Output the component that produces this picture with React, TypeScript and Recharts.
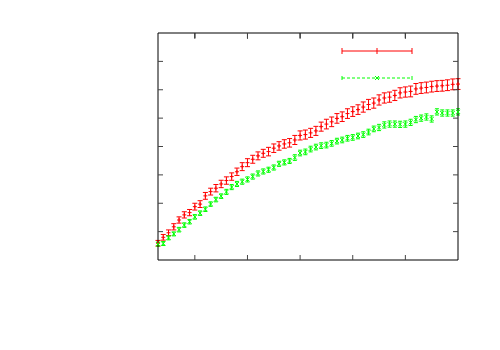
import React from 'react';
import { ScatterChart, Scatter, XAxis, YAxis, ErrorBar, ReferenceLine } from 'recharts';

// step index (x axis)
const steps = [
  3, 4, 5, 6, 7, 8, 9, 10, 11, 12, 13, 14, 15, 16, 17, 18, 19, 20, 21, 22,
  23, 24, 25, 26, 27, 28, 29, 30, 31, 32, 33, 34, 35, 36, 37, 38, 39, 40, 41, 42,
  43, 44, 45, 46, 47, 48, 49, 50, 51, 52, 53, 54, 55, 56, 57, 58, 59, 60,
];

const redMean = [
  0.59, 0.80, 0.96, 1.17, 1.41, 1.59, 1.67, 1.88, 1.97, 2.26, 2.41, 2.53, 2.68, 2.80, 2.94, 3.11, 3.29, 3.43, 3.55, 3.67,
  3.76, 3.82, 3.94, 4.02, 4.09, 4.13, 4.23, 4.39, 4.42, 4.48, 4.55, 4.70, 4.79, 4.87, 4.99, 5.05, 5.16, 5.23, 5.30, 5.39,
  5.48, 5.53, 5.64, 5.71, 5.74, 5.80, 5.89, 5.92, 5.94, 6.03, 6.06, 6.08, 6.11, 6.13, 6.14, 6.16, 6.19, 6.20,
];
const redErr = [
  0.10, 0.10, 0.10, 0.11, 0.11, 0.11, 0.11, 0.12, 0.12, 0.12, 0.12, 0.13, 0.13, 0.13, 0.13, 0.13, 0.14, 0.14, 0.14, 0.14,
  0.14, 0.15, 0.15, 0.15, 0.15, 0.15, 0.16, 0.16, 0.16, 0.16, 0.16, 0.16, 0.17, 0.17, 0.17, 0.17, 0.17, 0.17, 0.17, 0.18,
  0.18, 0.18, 0.18, 0.18, 0.18, 0.18, 0.18, 0.18, 0.19, 0.19, 0.19, 0.19, 0.19, 0.19, 0.19, 0.19, 0.19, 0.19,
];

const greenMean = [
  0.56, 0.58, 0.78, 0.92, 1.07, 1.23, 1.35, 1.52, 1.65, 1.79, 1.97, 2.13, 2.25, 2.40, 2.57, 2.68, 2.76, 2.84, 2.94, 3.05,
  3.12, 3.18, 3.26, 3.39, 3.44, 3.49, 3.61, 3.77, 3.81, 3.91, 3.98, 4.03, 4.05, 4.11, 4.19, 4.23, 4.29, 4.32, 4.37, 4.42,
  4.51, 4.62, 4.67, 4.76, 4.79, 4.79, 4.78, 4.79, 4.85, 4.95, 5.00, 5.04, 4.97, 5.22, 5.18, 5.18, 5.18, 5.22,
];
const greenErr = [
  0.07, 0.07, 0.07, 0.07, 0.08, 0.08, 0.08, 0.08, 0.08, 0.08, 0.08, 0.08, 0.08, 0.09, 0.09, 0.09, 0.09, 0.09, 0.09, 0.09,
  0.09, 0.09, 0.09, 0.09, 0.09, 0.09, 0.10, 0.10, 0.10, 0.10, 0.10, 0.10, 0.10, 0.10, 0.10, 0.10, 0.10, 0.10, 0.10, 0.10,
  0.10, 0.10, 0.11, 0.11, 0.11, 0.11, 0.11, 0.11, 0.11, 0.11, 0.11, 0.11, 0.11, 0.11, 0.11, 0.11, 0.11, 0.11,
];

const xTicks = [10, 20, 30, 40, 50];
const yTicks = [1, 2, 3, 4, 5, 6, 7];
const yTop = 8;
const topTickLen = 0.2;

const RED = '#ff0000';
const GREEN = '#00ff00';

const redData = steps.map((x, i) => ({ x, y: redMean[i], err: redErr[i] }));
const greenData = steps.map((x, i) => ({ x, y: greenMean[i], err: greenErr[i] }));

const Plus = (props: any) => {
  const { cx, cy } = props;
  return (
    <g stroke={RED} strokeWidth={1}>
      <line x1={cx - 2} y1={cy} x2={cx + 2} y2={cy} />
      <line x1={cx} y1={cy - 2} x2={cx} y2={cy + 2} />
    </g>
  );
};

const Cross = (props: any) => {
  const { cx, cy } = props;
  return (
    <g stroke={GREEN} strokeWidth={1}>
      <line x1={cx - 2} y1={cy - 2} x2={cx + 2} y2={cy + 2} />
      <line x1={cx - 2} y1={cy + 2} x2={cx + 2} y2={cy - 2} />
    </g>
  );
};

// gnuplot style key: sample line with caps and point, no labels
const KeyBox = () => (
  <svg width={80} height={40} style={{ position: 'absolute', left: 338, top: 45 }}>
    <g stroke={RED} strokeWidth={1}>
      <line x1={4} y1={6} x2={74} y2={6} />
      <line x1={4} y1={3} x2={4} y2={9} />
      <line x1={74} y1={3} x2={74} y2={9} />
      <line x1={39} y1={3} x2={39} y2={9} />
    </g>
    <g stroke={GREEN} strokeWidth={1}>
      <line x1={4} y1={33} x2={74} y2={33} strokeDasharray="3 2" />
      <line x1={4} y1={31} x2={4} y2={35} />
      <line x1={74} y1={31} x2={74} y2={35} />
      <line x1={37} y1={31} x2={41} y2={35} />
      <line x1={37} y1={35} x2={41} y2={31} />
    </g>
  </svg>
);

const blank = () => '';
const axisProps = {
  type: 'number' as const,
  tickFormatter: blank,
  axisLine: { stroke: '#000' },
  tickLine: { stroke: '#444' },
};

export default function App() {
  return (
    <div style={{ position: 'absolute', left: 0, top: 0, width: 500, height: 350, background: '#fff' }}>
      <ScatterChart width={500} height={350} margin={{ top: 3, right: 42, bottom: 90, left: 158 }}>
        <XAxis xAxisId="b" dataKey="x" domain={[3, 60]} ticks={xTicks} mirror tickSize={5} {...axisProps} />
        <XAxis xAxisId="t" orientation="top" dataKey="x" domain={[3, 60]} ticks={xTicks} height={30} tickSize={-5} {...axisProps} />
        <YAxis yAxisId="l" dataKey="y" domain={[0, 8]} ticks={yTicks} mirror tickSize={5} {...axisProps} />
        <YAxis yAxisId="r" orientation="right" dataKey="y" domain={[0, 8]} ticks={yTicks} mirror tickSize={5} {...axisProps} />
        {xTicks.map((t) => (
          <ReferenceLine key={t} xAxisId="b" yAxisId="l" stroke="#000" strokeWidth={1} ifOverflow="visible"
            segment={[{ x: t, y: yTop }, { x: t, y: yTop - topTickLen }]} />
        ))}
        <Scatter xAxisId="b" yAxisId="l" data={redData} shape={Plus} isAnimationActive={false}>
          <ErrorBar dataKey="err" direction="y" width={2.5} stroke={RED} strokeWidth={1} isAnimationActive={false} />
        </Scatter>
        <Scatter xAxisId="t" yAxisId="r" data={greenData} shape={Cross} isAnimationActive={false}>
          <ErrorBar dataKey="err" direction="y" width={2} stroke={GREEN} strokeWidth={1} isAnimationActive={false} />
        </Scatter>
      </ScatterChart>
      <KeyBox />
    </div>
  );
}
